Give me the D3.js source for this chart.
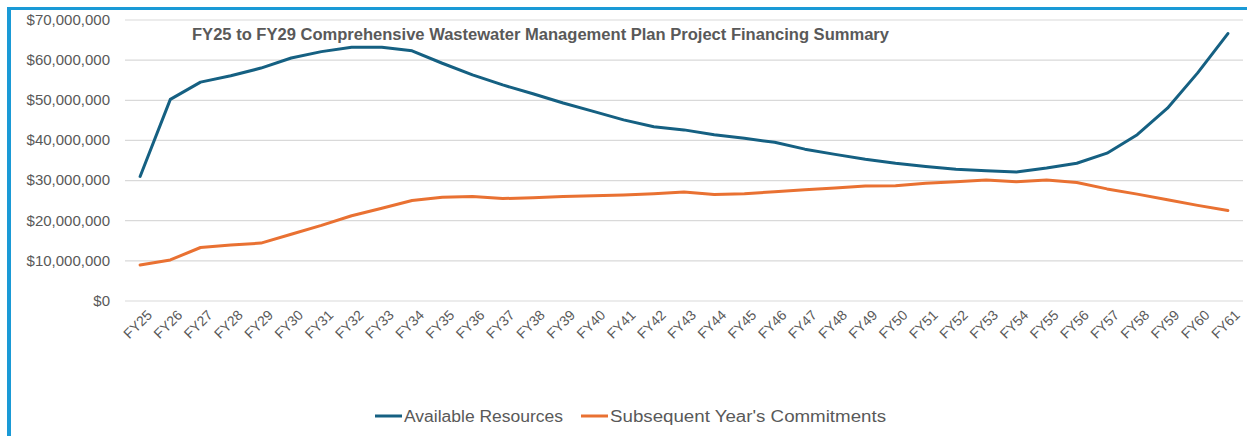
<!DOCTYPE html>
<html>
<head>
<meta charset="utf-8">
<script src="https://cdn.jsdelivr.net/npm/d3@7"></script>
<style>
  html, body { margin: 0; padding: 0; background: #fff; }
  svg { display: block; }
</style>
</head>
<body>
<svg id="chart" width="1247" height="436"></svg>
<script>
const categories = ["FY25","FY26","FY27","FY28","FY29","FY30","FY31","FY32","FY33","FY34","FY35","FY36","FY37","FY38","FY39","FY40","FY41","FY42","FY43","FY44","FY45","FY46","FY47","FY48","FY49","FY50","FY51","FY52","FY53","FY54","FY55","FY56","FY57","FY58","FY59","FY60","FY61"];
const availableResources = [30900000,50100000,54400000,56000000,57900000,60400000,62000000,63100000,63100000,62200000,59100000,56200000,53700000,51500000,49200000,47100000,45000000,43300000,42500000,41300000,40400000,39400000,37700000,36400000,35200000,34200000,33400000,32700000,32300000,32000000,33000000,34200000,36700000,41300000,47900000,56700000,66500000];
const subsequentCommitments = [8850000,10100000,13200000,13800000,14300000,16500000,18700000,21100000,23000000,24900000,25700000,25900000,25400000,25600000,25900000,26100000,26300000,26600000,27000000,26400000,26600000,27100000,27600000,28000000,28500000,28600000,29200000,29600000,30000000,29600000,30000000,29400000,27800000,26500000,25100000,23700000,22400000];
const yTicks = [0,10000000,20000000,30000000,40000000,50000000,60000000,70000000];
const seriesNames = ["Available Resources","Subsequent Year's Commitments"];
const title = "FY25 to FY29 Comprehensive Wastewater Management Plan Project Financing Summary";

const colors = ["#156082", "#E97132"];
const svg = d3.select("#chart");
const font = "'Liberation Sans', Arial, sans-serif";

// border (left and top)
svg.append("rect").attr("x", 7).attr("y", 7).attr("width", 1247).attr("height", 3).attr("fill", "#1A9AD6");
svg.append("rect").attr("x", 7).attr("y", 7).attr("width", 4).attr("height", 436).attr("fill", "#1A9AD6");

const x = d3.scalePoint().domain(categories).range([125, 1243]).padding(0.5);
const y = d3.scaleLinear().domain([0, 70000000]).range([300.5, 19.5]);

// gridlines + y labels
const yAxis = d3.axisLeft(y).tickValues(yTicks).tickSize(-(1243 - 125)).tickFormat(d => d3.format("$,")(d));
const gy = svg.append("g").attr("transform", "translate(125,0)").call(yAxis);
gy.select(".domain").remove();
gy.selectAll(".tick line").attr("stroke", "#D9D9D9").attr("stroke-width", 1.2);
gy.selectAll(".tick text").attr("x", -15).attr("fill", "#595959")
  .style("font-family", font).style("font-size", "15px");

// x axis labels
const xAxis = d3.axisBottom(x).tickSize(0);
const gx = svg.append("g").attr("transform", "translate(0,300.5)").call(xAxis);
gx.select(".domain").remove();
gx.selectAll(".tick text")
  .attr("fill", "#595959")
  .style("font-family", font).style("font-size", "14px")
  .attr("text-anchor", "end")
  .attr("transform", "translate(5,8) rotate(-45)")
  .attr("x", 0).attr("y", 0).attr("dy", "0.75em");

// lines
const line = d3.line().x((d, i) => x(categories[i])).y(d => y(d));
[availableResources, subsequentCommitments].forEach((s, k) => {
  svg.append("path").datum(s).attr("d", line)
    .attr("fill", "none").attr("stroke", colors[k]).attr("stroke-width", 3)
    .attr("stroke-linejoin", "round").attr("stroke-linecap", "round");
});

// title
svg.append("text").attr("x", 192).attr("y", 40).text(title)
  .attr("fill", "#595959").style("font-family", font)
  .style("font-size", "16px").style("font-weight", "bold")
  .attr("textLength", 697).attr("lengthAdjust", "spacingAndGlyphs");

// legend
const legendItems = [{x: 375, tx: 404, w: 159}, {x: 581, tx: 610, w: 276}];
seriesNames.forEach((n, k) => {
  svg.append("line").attr("x1", legendItems[k].x).attr("x2", legendItems[k].x + 27)
    .attr("y1", 416).attr("y2", 416).attr("stroke", colors[k]).attr("stroke-width", 3);
  svg.append("text").attr("x", legendItems[k].tx).attr("y", 421.5).text(n)
    .attr("fill", "#595959").style("font-family", font).style("font-size", "16px")
    .attr("textLength", legendItems[k].w).attr("lengthAdjust", "spacingAndGlyphs");
});
</script>
</body>
</html>
